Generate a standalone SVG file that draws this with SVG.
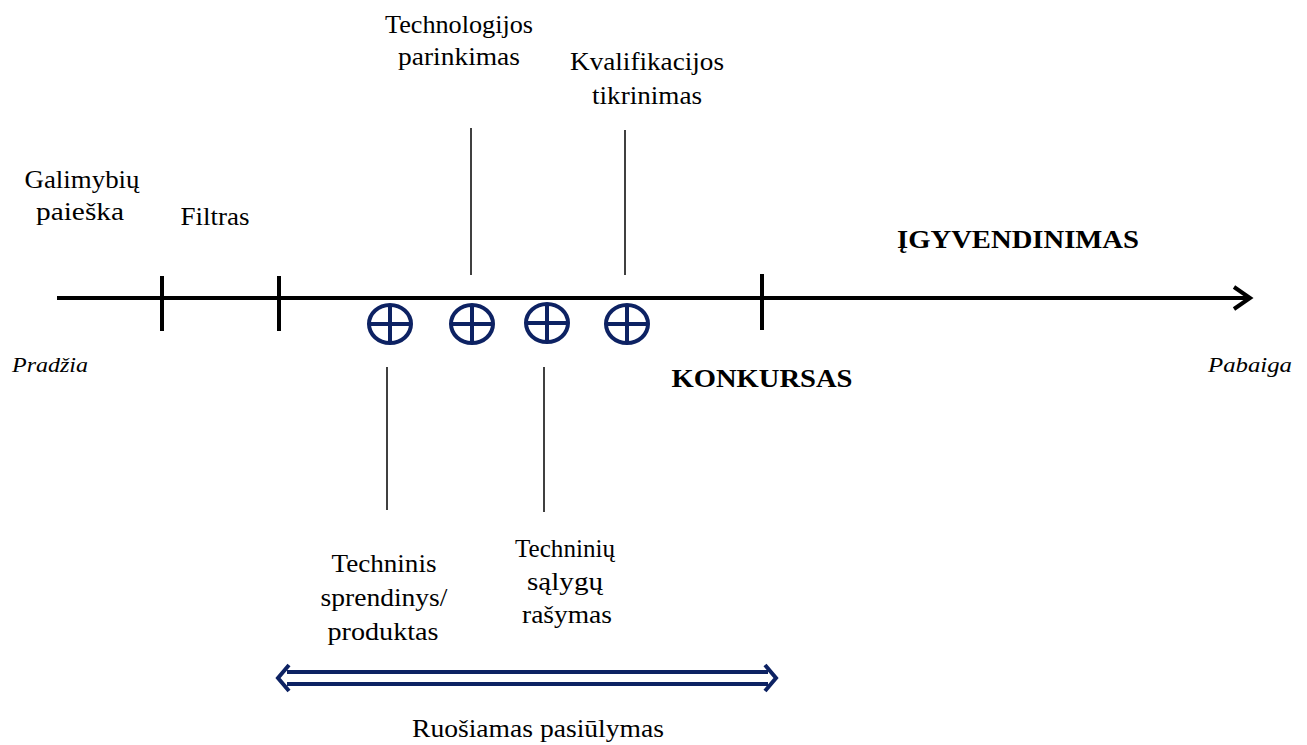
<svg xmlns="http://www.w3.org/2000/svg" width="1307" height="745" viewBox="0 0 1307 745">
<style>
.t{font-family:"Liberation Serif","Times New Roman",serif;font-size:25px;fill:#000;text-anchor:middle}
.b{font-weight:bold;font-size:25px}
.i{font-style:italic;font-size:21px;text-anchor:start}
.ln{stroke:#000;stroke-width:1.5;fill:none}
.tick{stroke:#000;stroke-width:4;fill:none}
.c{fill:none;stroke:#0d2263;stroke-width:4}
</style>
<rect width="1307" height="745" fill="#fff"/>
<g id="connectors">
<line class="tick" x1="57" y1="298" x2="1250" y2="298"/>
<polyline points="1234,287 1250,298 1234,309" fill="none" stroke="#000" stroke-width="4"/>
<line class="tick" x1="162" y1="276" x2="162" y2="331"/>
<line class="tick" x1="279" y1="276" x2="279" y2="331"/>
<line class="tick" x1="762" y1="274" x2="762" y2="330"/>
<line class="ln" x1="471" y1="128" x2="471" y2="275"/>
<line class="ln" x1="625" y1="130" x2="625" y2="275"/>
<line class="ln" x1="387" y1="367" x2="387" y2="510"/>
<line class="ln" x1="544" y1="367" x2="544" y2="512"/>
<g stroke="#0d2263" stroke-width="4" fill="none">
<line x1="287" y1="672" x2="768" y2="672"/>
<line x1="287" y1="684" x2="768" y2="684"/>
<polyline points="289,665 278,678 289,691"/>
<polyline points="765,665 776,678 765,691"/>
</g>
</g>
<g id="markers">
<g id="m1"><ellipse class="c" cx="390" cy="324" rx="21" ry="19"/><line class="c" x1="369" y1="324" x2="411" y2="324"/><line class="c" x1="390" y1="305" x2="390" y2="343"/></g>
<g id="m2"><ellipse class="c" cx="472" cy="324" rx="21" ry="19"/><line class="c" x1="451" y1="324" x2="493" y2="324"/><line class="c" x1="472" y1="305" x2="472" y2="343"/></g>
<g id="m3"><ellipse class="c" cx="547" cy="323" rx="21" ry="19"/><line class="c" x1="526" y1="323" x2="568" y2="323"/><line class="c" x1="547" y1="304" x2="547" y2="342"/></g>
<g id="m4"><ellipse class="c" cx="627" cy="324" rx="21" ry="19"/><line class="c" x1="606" y1="324" x2="648" y2="324"/><line class="c" x1="627" y1="305" x2="627" y2="343"/></g>
</g>
<g id="n-galimybiu"><text class="t" x="82" y="188" textLength="115" lengthAdjust="spacingAndGlyphs">Galimybių</text><text class="t" x="80" y="220" textLength="88" lengthAdjust="spacingAndGlyphs">paieška</text></g>
<g id="n-filtras"><text class="t" x="215" y="225" textLength="69" lengthAdjust="spacingAndGlyphs">Filtras</text></g>
<g id="n-technologijos"><text class="t" x="459" y="33" textLength="148" lengthAdjust="spacingAndGlyphs">Technologijos</text><text class="t" x="459" y="65" textLength="122" lengthAdjust="spacingAndGlyphs">parinkimas</text></g>
<g id="n-kvalifikacijos"><text class="t" x="647" y="70" textLength="154" lengthAdjust="spacingAndGlyphs">Kvalifikacijos</text><text class="t" x="647" y="104" textLength="110" lengthAdjust="spacingAndGlyphs">tikrinimas</text></g>
<g id="n-igyvendinimas"><text class="t b" x="1018" y="248" textLength="242" lengthAdjust="spacingAndGlyphs">ĮGYVENDINIMAS</text></g>
<g id="n-konkursas"><text class="t b" x="762" y="387" textLength="181" lengthAdjust="spacingAndGlyphs">KONKURSAS</text></g>
<g id="n-pradzia"><text class="t i" x="12" y="372" textLength="76" lengthAdjust="spacingAndGlyphs">Pradžia</text></g>
<g id="n-pabaiga"><text class="t i" x="1208" y="372" textLength="84" lengthAdjust="spacingAndGlyphs">Pabaiga</text></g>
<g id="n-techninis"><text class="t" x="384" y="572" textLength="105" lengthAdjust="spacingAndGlyphs">Techninis</text><text class="t" x="384" y="606" textLength="127" lengthAdjust="spacingAndGlyphs">sprendinys/</text><text class="t" x="383" y="640" textLength="111" lengthAdjust="spacingAndGlyphs">produktas</text></g>
<g id="n-techniniu"><text class="t" x="565" y="557" textLength="100" lengthAdjust="spacingAndGlyphs">Techninių</text><text class="t" x="565" y="590" textLength="76" lengthAdjust="spacingAndGlyphs">sąlygų</text><text class="t" x="567" y="623" textLength="90" lengthAdjust="spacingAndGlyphs">rašymas</text></g>
<g id="n-ruosiamas"><text class="t" x="538" y="737" textLength="252" lengthAdjust="spacingAndGlyphs">Ruošiamas pasiūlymas</text></g>
</svg>
